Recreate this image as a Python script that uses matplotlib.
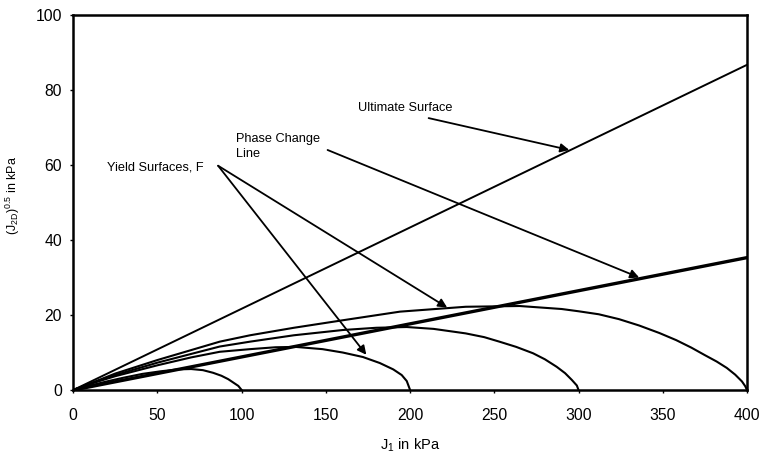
import numpy as np
import matplotlib
matplotlib.use("Agg")
import matplotlib.pyplot as plt

plt.rcParams["font.family"] = ["Liberation Sans", "DejaVu Sans"]
plt.rcParams["mathtext.default"] = "regular"

# -----------------------------
# Data
# -----------------------------
ult_j1 = [0, 400]
ult_q = [0, 86.7]

phase_j1 = [0, 400]
phase_q = [0, 35.3]

# yield surfaces F, one per J1 at closure
f100_j1 = [0, 10, 20, 30, 41, 52, 62, 70, 77, 83, 88, 92, 95, 98, 100]
f100_q = [0, 1.2, 2.3, 3.3, 4.3, 5.0, 5.5, 5.6, 5.3, 4.6, 3.8, 2.9, 2.0, 1.1, 0]

f200_j1 = [0, 12, 25, 50, 70, 87, 105, 120, 132, 148, 160, 172, 182, 190, 195, 198, 200]
f200_q = [0, 1.9, 3.7, 6.6, 8.7, 10.2, 10.9, 11.4, 11.5, 10.9, 10.0, 8.8, 7.2, 5.5, 4.0, 2.4, 0]

f300_j1 = [0, 12, 25, 50, 87, 105, 131, 160, 180, 198, 214, 233, 244, 253, 263, 273,
           280, 287, 292, 296, 299, 300]
f300_q = [0, 2.0, 4.0, 7.3, 11.6, 12.9, 14.6, 16.0, 16.6, 16.8, 16.3, 15.1, 14.1, 12.9,
          11.5, 9.8, 8.2, 6.2, 4.5, 2.7, 1.2, 0]

f400_j1 = [0, 12, 25, 50, 87, 105, 131, 160, 194, 233, 265, 290, 300, 312, 324, 336,
           348, 358, 367, 375, 382, 388, 393, 397, 399, 400]
f400_q = [0, 2.1, 4.4, 8.0, 12.9, 14.6, 16.6, 18.6, 20.9, 22.2, 22.4, 21.6, 21.0, 20.2,
          18.9, 17.2, 15.2, 13.3, 11.3, 9.3, 7.6, 5.9, 4.1, 2.3, 1.0, 0]

x_ticks = [0, 50, 100, 150, 200, 250, 300, 350, 400]
y_ticks = [0, 20, 40, 60, 80, 100]

# -----------------------------
# Plot
# -----------------------------
fig = plt.figure(figsize=(7.63, 4.53), dpi=100)
ax = fig.add_axes([0.096, 0.139, 0.883, 0.828])

ax.plot(ult_j1, ult_q, color="black", lw=1.4)
ax.plot(phase_j1, phase_q, color="black", lw=2.4)

for j1, q in [(f100_j1, f100_q), (f200_j1, f200_q),
              (f300_j1, f300_q), (f400_j1, f400_q)]:
    ax.plot(j1, q, color="black", lw=1.5, solid_joinstyle="round")

arrow = dict(arrowstyle="-|>", color="black", lw=1.3,
             mutation_scale=13, shrinkA=0, shrinkB=0)

# labels + arrows
ax.text(169, 75.2, "Ultimate Surface", fontsize=9.2, va="center")
ax.annotate("", xy=(294.5, 64.0), xytext=(211, 72.5), arrowprops=arrow)

ax.text(96.5, 65.0, "Phase Change\nLine", fontsize=9.2, va="center",
        linespacing=1.3)
ax.annotate("", xy=(336, 30.0), xytext=(151, 64.0), arrowprops=arrow)

ax.text(20, 59.2, "Yield Surfaces, F", fontsize=9.2, va="center")
ax.annotate("", xy=(174, 9.4), xytext=(86, 59.8), arrowprops=arrow)
ax.annotate("", xy=(222, 22.0), xytext=(86, 59.8), arrowprops=arrow)

ax.set_xlim(0, 400)
ax.set_ylim(0, 100)
ax.set_xticks(x_ticks)
ax.set_yticks(y_ticks)
ax.tick_params(labelsize=11.3, length=2, width=1, direction="out")
ax.tick_params(axis="x", pad=11)
ax.tick_params(axis="y", pad=6)
for s in ax.spines.values():
    s.set_linewidth(1.8)

ax.set_xlabel("J$_1$ in kPa", fontsize=10.5)
ax.set_ylabel("(J$_{2D}$)$^{0.5}$ in kPa", fontsize=9)
ax.xaxis.set_label_coords(0.5, -0.125)
ax.yaxis.set_label_coords(-0.076, 0.52)

plt.savefig("out.png", dpi=100)
